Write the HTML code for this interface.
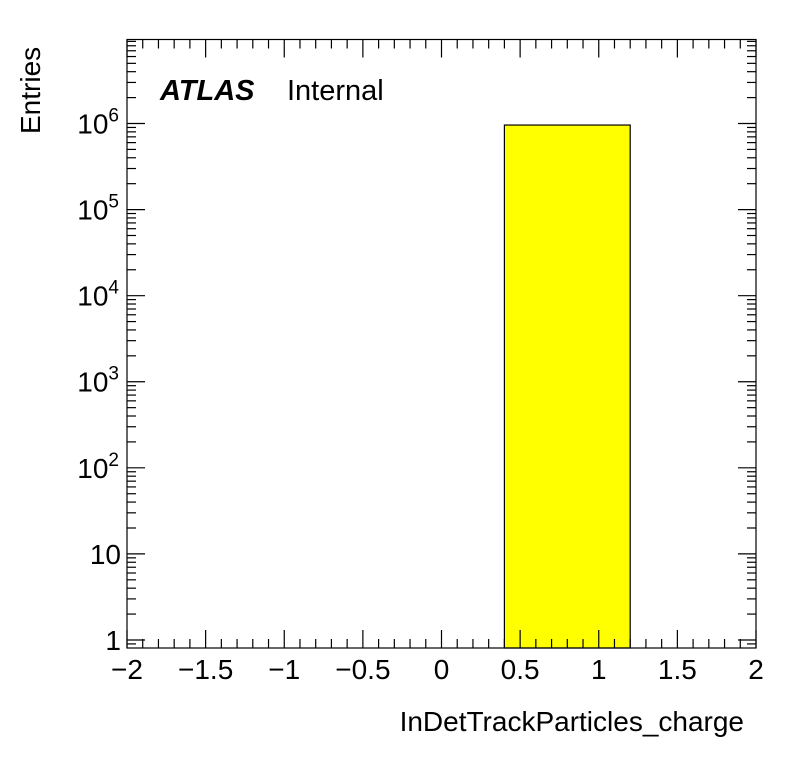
<!DOCTYPE html>
<html><head><meta charset="utf-8"><style>
html,body{margin:0;padding:0;background:#fff;}
svg text{font-family:"Liberation Sans",Arial,sans-serif;fill:#000;}
</style></head><body>
<svg id="chart" width="796" height="772" viewBox="0 0 796 772" xmlns="http://www.w3.org/2000/svg">
<rect width="796" height="772" fill="#fff"/>
<g id="bars"></g>
<g id="axes"></g>
<rect x="127" y="39.5" width="629" height="608.5" fill="none" stroke="#000" stroke-width="1.2"/>
<text x="160" y="100" font-size="29" font-weight="bold" font-style="italic">ATLAS</text>
<text x="287" y="100" font-size="29">Internal</text>
<text x="744" y="731" font-size="28" text-anchor="end">InDetTrackParticles_charge</text>
<text transform="translate(40,134) rotate(-90)" font-size="28">Entries</text>
</svg>
<script>
const binEdgesLow = [0.4];
const binEdgesHigh = [1.2];
const binCounts = [960000];
const xTicks = [-2, -1.5, -1, -0.5, 0, 0.5, 1, 1.5, 2];
const xTickLabels = ["\u22122", "\u22121.5", "\u22121", "\u22120.5", "0", "0.5", "1", "1.5", "2"];
const yDecades = [0, 1, 2, 3, 4, 5, 6];
const yTickLabels = ["1", "10", "10^2", "10^3", "10^4", "10^5", "10^6"];

const L = 127, R = 756, T = 39.5, B = 648;
const xMin = -2, xMax = 2;
const logMin = Math.log10(0.807), logMax = 6.976;
function xs(v){ return L + (v - xMin) / (xMax - xMin) * (R - L); }
function ys(v){ return B - (Math.log10(v) - logMin) / (logMax - logMin) * (B - T); }
const NS = "http://www.w3.org/2000/svg";
const bars = document.getElementById('bars');
const axes = document.getElementById('axes');
function line(x1,y1,x2,y2,name){
  const l = document.createElementNS(NS,'line');
  l.setAttribute('x1',x1);l.setAttribute('y1',y1);l.setAttribute('x2',x2);l.setAttribute('y2',y2);
  l.setAttribute('stroke','#000');l.setAttribute('stroke-width','1.2');
  
  
  axes.appendChild(l);
}
binCounts.forEach((c,i)=>{
  const r = document.createElementNS(NS,'rect');
  const x0 = xs(binEdgesLow[i]), x1 = xs(binEdgesHigh[i]), y0 = ys(c);
  r.setAttribute('x',x0);r.setAttribute('y',y0);r.setAttribute('width',x1-x0);r.setAttribute('height',B-y0);
  r.setAttribute('fill','#ffff00');r.setAttribute('stroke','#000');r.setAttribute('stroke-width','1.2');
  
  
  bars.appendChild(r);
});
// x ticks
for(let k=0;k<=40;k++){
  const v = xMin + k*0.1;
  const major = k%5===0;
  const len = major?18:9;
  const x = xs(v);
  line(x,B,x,B-len,'x-tick');
  line(x,T,x,T+len,'x-tick-top');
}
xTicks.forEach((v,i)=>{
  const t = document.createElementNS(NS,'text');
  t.setAttribute('x',xs(v));t.setAttribute('y',679);t.setAttribute('font-size','28');t.setAttribute('text-anchor','middle');
  t.textContent = xTickLabels[i];
  
  
  axes.appendChild(t);
});
// y ticks
for(let d=-1; d<=6; d++){
  for(let m=1;m<=9;m++){
    const v = m*Math.pow(10,d);
    const lv = Math.log10(v);
    if(lv<logMin||lv>logMax) continue;
    const len = m===1?18:9;
    const y = ys(v);
    line(L,y,L+len,y,'y-tick');
    line(R,y,R-len,y,'y-tick-right');
  }
}
yDecades.forEach((d,i)=>{
  const y = ys(Math.pow(10,d));
  const t = document.createElementNS(NS,'text');
  t.setAttribute('font-size','28');t.setAttribute('text-anchor','end');
  
  
  const lab = yTickLabels[i];
  if(lab.indexOf('^')>=0){
    const parts = lab.split('^');
    t.setAttribute('x',119);t.setAttribute('y',y+10);
    const a = document.createElementNS(NS,'tspan'); a.textContent = parts[0];
    const b = document.createElementNS(NS,'tspan'); b.textContent = parts[1];
    b.setAttribute('font-size','19'); b.setAttribute('dy','-12');
    t.appendChild(a); t.appendChild(b);
  } else {
    t.setAttribute('x',121);t.setAttribute('y',y+10);
    t.textContent = lab;
  }
  axes.appendChild(t);
});
</script>
</body></html>
